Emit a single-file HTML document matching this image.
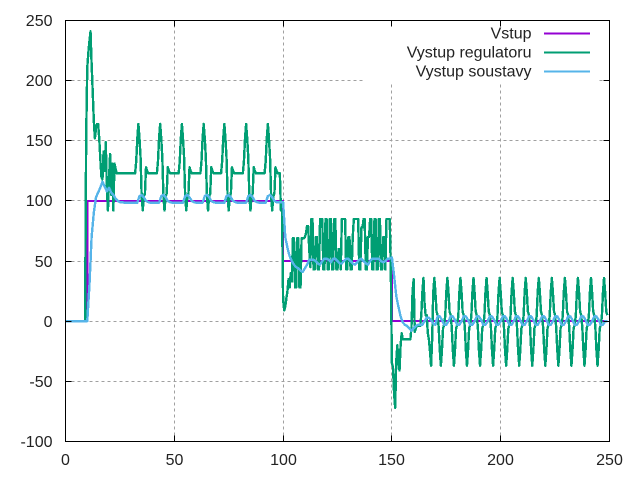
<!DOCTYPE html>
<html>
<head>
<meta charset="utf-8">
<title>Vstup chart</title>
<style>
html,body{margin:0;padding:0;background:#fff;}
svg{display:block;font-family:"Liberation Sans",sans-serif;}
</style>
</head>
<body>
<svg id="chart" xmlns="http://www.w3.org/2000/svg" width="640" height="480" viewBox="0 0 640 480"></svg>
<script>
const xTicks = [0, 50, 100, 150, 200, 250];
const yTicks = [-100, -50, 0, 50, 100, 150, 200, 250];
const seriesLabels = ["Vstup", "Vystup regulatoru", "Vystup soustavy"];
const inputTimes = [0, 10, 10, 100, 100, 150, 150, 249];
const inputValues = [0, 0, 100, 100, 50, 50, 0, 0];
const controllerSampleStep = 0.5;
const controllerValues = [
0,0,0,0,0,0,0,0,0,0,0,0,0,0,0,0,0,0,0,
154,211,223,233,241,214,191,167,152,160,164,164,
152,135,120,118,141,125,149,111,92,118,139,105,131,92,131,127,
123,123,123,123,123,123,123,123,123,123,123,123,123,123,123,123,123,123,
133,152,164,152,136,104,92,104,106,128,125,
123,123,123,123,123,123,123,123,123,
133,152,164,152,136,104,92,104,106,128,125,
123,123,123,123,123,123,123,123,123,
133,152,164,152,136,104,92,104,106,128,125,
123,123,123,123,123,123,123,123,123,
133,152,164,152,136,104,92,104,106,128,125,
123,123,123,123,123,123,123,123,
133,152,164,152,136,104,92,104,106,128,125,
123,123,123,123,123,123,123,123,123,
133,152,164,152,136,104,92,104,106,128,125,
123,123,123,123,123,123,123,123,123,
133,152,164,152,136,104,92,104,106,128,125,
123,123,123,
92,92,18,9,12,19,25,35,28,40,33,
69,69,28,28,69,69,28,28,69,69,69,70,73,79,79,
60,45,85,85,43,43,70,70,43,43,85,85,85,43,43,85,85,43,43,85,85,43,43,85,85,43,43,60,60,43,85,85,85,85,43,43,70,70,43,43,70,85,85,85,85,85,43,43,78,78,85,85,43,43,70,70,85,85,43,43,85,85,43,43,85,85,43,43,70,70,43,85,85,85,85,43,
-35,-38,-60,-72,-33,-20,-33,-41,-20,-10,
-15,-15,-15,-15,-15,-15,-15,-15,
-5,25,35,-9,-6,-4,-4,-4,-4,5,
24,36,15,5,5,-10,-15,-25,-37,-15,24,
36,24,8,5,-5,-24,-37,-24,-6,-3,4,24,
36,24,8,5,-5,-24,-37,-24,-6,-3,4,24,
36,24,8,5,-5,-24,-37,-24,-6,-3,4,24,
36,24,8,5,-5,-24,-37,-24,-6,-3,4,24,
36,24,8,5,-5,-24,-37,-24,-6,-3,4,24,
36,24,8,5,-5,-24,-37,-24,-6,-3,4,24,
36,24,8,5,-5,-24,-37,-24,-6,-3,4,24,
36,24,8,5,-5,-24,-37,-24,-6,-3,4,24,
36,24,8,5,-5,-24,-37,-24,-6,-3,4,24,
36,24,8,5,-5,-24,-37,-24,-6,-3,4,24,
36,24,8,5,-5,-24,-37,-24,-6,-3,4,24,
36,24,8,5,-5,-24,-37,-24,-6,-3,4,24,
36,24,8,5,-5,-24,-37,-24,-6,-3,4,24,
36,24,8,5
];
const plantSampleStep = 1;
const plantValues = [
0,0,0,0,0,0,0,0,0,0,
0,30,70,90,103,107,111,116,112,108,111,107,105,102,100,99,99,
98.5,98.5,98.5,98.5,98.5,98.5,98.5,
104,105,103,100,99,98.5,98.5,98.5,98.5,98.5,
104,105,103,100,99,98.5,98.5,98.5,98.5,98.5,98.5,
104,105,103,100,99,98.5,98.5,98.5,98.5,
104,105,103,100,99,98.5,98.5,98.5,98.5,98.5,
104,105,103,100,99,98.5,98.5,98.5,98.5,98.5,
104,105,103,100,99,98.5,98.5,98.5,98.5,
104,105,103,100,99,99,99,
99,70,61,54,50,47,45,44,42,41,44,47,51,51,51,50,48,47,50,52,52,51,49,52,52,50,48,48,50,52,52,50,48,47,49,51,52,50,48,47,50,52,52,52,52,50,49,50,52,52,
53,38,21,12,4,-1,-3,-4,-6,-8,-6,-4,-3,-3,-3,0,3,3,1,-2,-3,
4,4,1,-3,-3,0,
4,4,1,-3,-3,0,
4,4,1,-3,-3,0,
4,4,1,-3,-3,0,
4,4,1,-3,-3,0,
4,4,1,-3,-3,0,
4,4,1,-3,-3,0,
4,4,1,-3,-3,0,
4,4,1,-3,-3,0,
4,4,1,-3,-3,0,
4,4,1,-3,-3,0,
4,4,1,-3,-3,0,
4,4,1,-3,-3,0,0
];

const NS = "http://www.w3.org/2000/svg";
const svg = document.getElementById("chart");
const plotLeft = 65.5, plotRight = 609.5, plotTop = 20.5, plotBottom = 441.5;
const xMin = 0, xMax = 250, yMin = -100, yMax = 250;
function xScale(t) { return plotLeft + (t - xMin) * (plotRight - plotLeft) / (xMax - xMin); }
function yScale(v) { return plotBottom - (v - yMin) * (plotBottom - plotTop) / (yMax - yMin); }
function make(tag, attrs, parent) {
  const el = document.createElementNS(NS, tag);
  for (const k in attrs) el.setAttribute(k, attrs[k]);
  (parent || svg).appendChild(el);
  return el;
}
function snap(p) { return Math.floor(p) + 0.5; }

const gridStyle = { stroke: "#a0a0a0", "stroke-width": 1, "stroke-dasharray": "3 3", "shape-rendering": "crispEdges" };
const tickStyle = { stroke: "#000", "stroke-width": 1, "shape-rendering": "crispEdges" };
const labelStyle = { "font-size": "16px", fill: "#222" };

xTicks.forEach(function (t) {
  const x = snap(xScale(t));
  if (t !== xMin && t !== xMax) {
    const g = make("line", Object.assign({ x1: x, x2: x, y1: plotBottom, y2: plotTop }, gridStyle));
    
    
  }
});
yTicks.forEach(function (v) {
  const y = snap(yScale(v));
  if (v !== yMin && v !== yMax) {
    const g = make("line", Object.assign({ x1: plotLeft, x2: plotRight, y1: y, y2: y }, gridStyle));
    
    
  }
});

const legendBg = make("rect", { x: 363, y: 21, width: 235, height: 63, fill: "#fff" });



function drawSeries(points, color, name, width) {
  const d = points.map(function (p, i) { return (i ? "L" : "M") + xScale(p[0]).toFixed(2) + " " + yScale(p[1]).toFixed(2); }).join("");
  const path = make("path", { d: d, fill: "none", stroke: color, "stroke-width": width, "stroke-linejoin": "round", "shape-rendering": "crispEdges" });
  
  
}
drawSeries(inputTimes.map(function (t, i) { return [t, inputValues[i]]; }), "#9400d3", "series-vstup", 2);
drawSeries(controllerValues.map(function (v, i) { return [i * controllerSampleStep, v]; }), "#009e73", "series-vystup-regulatoru", 2.4);
drawSeries(plantValues.map(function (v, i) { return [i * plantSampleStep, v]; }), "#56b4e9", "series-vystup-soustavy", 2.4);

const frame = make("rect", { x: plotLeft, y: plotTop, width: plotRight - plotLeft, height: plotBottom - plotTop, fill: "none", stroke: "#000", "stroke-width": 1, "shape-rendering": "crispEdges" });



xTicks.forEach(function (t) {
  const x = snap(xScale(t));
  const a = make("line", Object.assign({ x1: x, x2: x, y1: plotBottom, y2: plotBottom - 6 }, tickStyle));
  
  
  const b = make("line", Object.assign({ x1: x, x2: x, y1: plotTop, y2: plotTop + 6 }, tickStyle));
  
  
  const label = make("text", Object.assign({ x: x, y: 465, "text-anchor": "middle" }, labelStyle));
  
  
  label.textContent = t;
});
yTicks.forEach(function (v) {
  const y = snap(yScale(v));
  const a = make("line", Object.assign({ x1: plotLeft, x2: plotLeft + 6, y1: y, y2: y }, tickStyle));
  
  
  const b = make("line", Object.assign({ x1: plotRight, x2: plotRight - 6, y1: y, y2: y }, tickStyle));
  
  
  const label = make("text", Object.assign({ x: 52.5, y: y + 5.5, "text-anchor": "end" }, labelStyle));
  
  
  label.textContent = v;
});

const legendColors = ["#9400d3", "#009e73", "#56b4e9"];
seriesLabels.forEach(function (s, i) {
  const rowY = 33.5 + i * 19;
  const text = make("text", Object.assign({ x: 531.5, y: rowY + 5, "text-anchor": "end" }, labelStyle));
  
  
  text.textContent = s;
  const sw = make("line", { x1: 544, x2: 590, y1: rowY, y2: rowY, stroke: legendColors[i], "stroke-width": 2, "shape-rendering": "crispEdges" });
  
  
});
</script>
</body>
</html>
